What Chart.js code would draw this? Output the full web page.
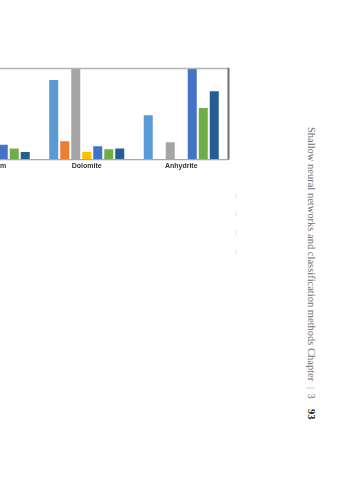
<!DOCTYPE html>
<html><head><meta charset="utf-8">
<script src="https://cdn.jsdelivr.net/npm/chart.js@4"></script>
<style>
html,body{margin:0;padding:0;width:359px;height:480px;background:#fff;overflow:hidden;position:relative}
#wrap{position:absolute;left:-60px;top:60px;width:290px;height:112px}
#side{position:absolute;left:304px;top:127px;writing-mode:vertical-rl;font-family:"Liberation Serif",serif;font-size:10.5px;color:#707070;white-space:nowrap;line-height:14px}
#side b{color:#222;margin-inline-start:10px}
#side .bar{margin-inline-start:6px;margin-inline-end:4px;color:#aaa}
.mk{position:absolute;left:235px;font:5px "Liberation Sans",sans-serif;color:#c8c8c8}
</style></head><body>
<div id="wrap"><canvas id="c"></canvas></div>
<div id="side">Shallow neural networks and classification methods Chapter<span class="bar">|</span>3<b>93</b></div>
<div class="mk" style="top:192px">|</div>
<div class="mk" style="top:210px">|</div>
<div class="mk" style="top:229px">|</div>
<div class="mk" style="top:248px">|</div>
<script>
const categories = ["Gypsum", "Dolomite", "Anhydrite"];
const seriesNames = ["Series 1", "Series 2", "Series 3", "Series 4", "Series 5", "Series 6", "Series 7"];
const series1 = [20, 87.4, 48.7];
const series2 = [6, 20.2, 0];
const series3 = [10, 120, 19.1];
const series4 = [4, 8.4, 0];
const series5 = [16.4, 14.7, 105];
const series6 = [12.1, 11.4, 56.7];
const series7 = [8.4, 12.1, 75];
const colors = ["#5B9BD5", "#ED7D31", "#A5A5A5", "#FFC000", "#4472C4", "#70AD47", "#255E91"];
const allSeries = [series1, series2, series3, series4, series5, series6, series7];

const frame = {
  id: 'frame',
  afterDatasetsDraw(chart) {
    const {ctx, chartArea: a} = chart;
    ctx.save();
    ctx.lineWidth = 1.3;
    ctx.strokeStyle = '#b4b4b4';
    ctx.beginPath(); ctx.moveTo(a.left, a.top); ctx.lineTo(a.right, a.top); ctx.stroke();
    ctx.strokeStyle = '#a8a8a8';
    ctx.beginPath(); ctx.moveTo(a.left, a.bottom); ctx.lineTo(a.right, a.bottom); ctx.stroke();
    ctx.lineWidth = 2;
    ctx.strokeStyle = '#6e6e6e';
    ctx.beginPath(); ctx.moveTo(a.right, a.top - 0.6); ctx.lineTo(a.right, a.bottom); ctx.stroke();
    ctx.restore();
  }
};

new Chart(document.getElementById('c'), {
  type: 'bar',
  data: {
    labels: categories,
    datasets: allSeries.map((d, i) => ({
      label: seriesNames[i],
      data: d,
      backgroundColor: colors[i],
      borderWidth: 0,
      categoryPercentage: 0.815,
      barPercentage: 0.818
    }))
  },
  options: {
    responsive: true,
    maintainAspectRatio: false,
    devicePixelRatio: 1,
    animation: false,
    layout: {padding: {left: 5, right: 1.5, top: 8.5, bottom: 0}},
    plugins: {legend: {display: false}, tooltip: {enabled: false}},
    scales: {
      x: {
        grid: {display: false, drawTicks: false},
        border: {display: false},
        ticks: {font: {size: 7, weight: 'bold', family: '"Liberation Sans", sans-serif'}, color: '#333', padding: 2, maxRotation: 0, autoSkip: false}
      },
      y: {display: false, min: 0, max: 100}
    }
  },
  plugins: [frame]
});
</script>
</body></html>
